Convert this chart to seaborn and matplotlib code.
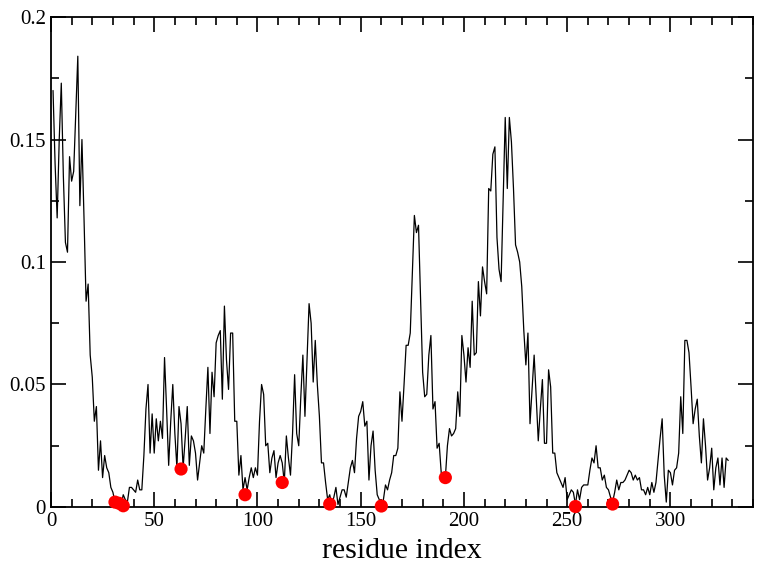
import matplotlib
matplotlib.use("Agg")
import matplotlib.pyplot as plt
import numpy as np
import pandas as pd
import seaborn as sns
from matplotlib.ticker import MultipleLocator

# per-residue profile
values = [
    0.170, 0.140, 0.118, 0.150, 0.173, 0.135, 0.108, 0.104, 0.143, 0.133,
    0.137, 0.160, 0.184, 0.123, 0.150, 0.118, 0.084, 0.091, 0.062, 0.053,
    0.035, 0.041, 0.015, 0.027, 0.012, 0.021, 0.016, 0.014, 0.008, 0.006,
    0.002, 0.004, 0.003, 0.001, 0.005, 0.003, 0.002, 0.008, 0.008, 0.007,
    0.006, 0.011, 0.007, 0.007, 0.021, 0.040, 0.050, 0.022, 0.038, 0.022,
    0.036, 0.027, 0.035, 0.028, 0.061, 0.040, 0.017, 0.035, 0.050, 0.030,
    0.016, 0.041, 0.034, 0.016, 0.028, 0.041, 0.017, 0.029, 0.027, 0.022,
    0.011, 0.018, 0.025, 0.022, 0.040, 0.057, 0.030, 0.055, 0.045, 0.067,
    0.070, 0.072, 0.044, 0.082, 0.060, 0.048, 0.071, 0.071, 0.035, 0.035,
    0.013, 0.021, 0.007, 0.012, 0.007, 0.012, 0.016, 0.012, 0.016, 0.013,
    0.035, 0.050, 0.046, 0.025, 0.026, 0.014, 0.020, 0.023, 0.012, 0.018,
    0.021, 0.018, 0.010, 0.029, 0.020, 0.013, 0.030, 0.054, 0.030, 0.025,
    0.045, 0.062, 0.037, 0.060, 0.083, 0.075, 0.051, 0.068, 0.050, 0.037,
    0.018, 0.018, 0.010, 0.003, 0.005, 0.001, 0.004, 0.008, 0.001, 0.004,
    0.007, 0.007, 0.004, 0.010, 0.016, 0.019, 0.014, 0.028, 0.037, 0.039,
    0.043, 0.033, 0.035, 0.011, 0.025, 0.031, 0.015, 0.005, 0.003, 0.001,
    0.003, 0.009, 0.007, 0.011, 0.014, 0.021, 0.021, 0.024, 0.047, 0.035,
    0.050, 0.066, 0.066, 0.071, 0.095, 0.119, 0.112, 0.115, 0.085, 0.055,
    0.045, 0.046, 0.062, 0.070, 0.040, 0.043, 0.024, 0.026, 0.014, 0.013,
    0.012, 0.025, 0.032, 0.029, 0.030, 0.032, 0.047, 0.037, 0.070, 0.062,
    0.051, 0.065, 0.057, 0.084, 0.062, 0.063, 0.092, 0.078, 0.098, 0.092,
    0.087, 0.130, 0.129, 0.144, 0.147, 0.110, 0.097, 0.092, 0.125, 0.159,
    0.130, 0.159, 0.149, 0.130, 0.107, 0.104, 0.100, 0.090, 0.072, 0.058,
    0.071, 0.034, 0.048, 0.062, 0.045, 0.027, 0.040, 0.052, 0.026, 0.026,
    0.056, 0.049, 0.022, 0.022, 0.014, 0.012, 0.010, 0.008, 0.012, 0.003,
    0.005, 0.007, 0.006, 0.001, 0.007, 0.003, 0.008, 0.009, 0.009, 0.009,
    0.015, 0.020, 0.018, 0.025, 0.016, 0.016, 0.011, 0.013, 0.008, 0.007,
    0.004, 0.002, 0.006, 0.011, 0.007, 0.010, 0.010, 0.011, 0.013, 0.015,
    0.014, 0.011, 0.013, 0.011, 0.012, 0.007, 0.007, 0.005, 0.008, 0.005,
    0.010, 0.006, 0.010, 0.019, 0.028, 0.036, 0.013, 0.002, 0.015, 0.014,
    0.009, 0.015, 0.016, 0.022, 0.045, 0.030, 0.068, 0.068, 0.063, 0.049,
    0.034, 0.040, 0.044, 0.029, 0.018, 0.036, 0.025, 0.011, 0.016, 0.024,
    0.007, 0.016, 0.020, 0.009, 0.020, 0.008, 0.020, 0.019,
]
residues = list(range(1, len(values) + 1))

# highlighted residues (red dots)
site_residues = [31, 33, 35, 63, 94, 112, 135, 160, 191, 254, 272]
site_values = [0.002, 0.0015, 0.0005, 0.0155, 0.005, 0.010, 0.0012,
               0.0004, 0.012, 0.0002, 0.0012]

sns.set_style("ticks")
plt.rcParams["font.family"] = ["Liberation Serif", "DejaVu Serif"]

df = pd.DataFrame({"residue": residues, "value": values})
df_sites = pd.DataFrame({"residue": site_residues, "value": site_values})

fig = plt.figure(figsize=(7.63, 5.71), dpi=100)
ax = fig.add_axes([0.0668, 0.1121, 0.9201, 0.8581])

sns.lineplot(data=df, x="residue", y="value", color="black", linewidth=0.9, ax=ax)
sns.scatterplot(data=df_sites, x="residue", y="value", color="#ff0000",
                s=90, edgecolor="none", zorder=3, clip_on=False, ax=ax)

ax.set_xlim(0, 340)
ax.set_ylim(0, 0.2)
ax.xaxis.set_major_locator(MultipleLocator(50))
ax.xaxis.set_minor_locator(MultipleLocator(10))
ax.yaxis.set_major_locator(MultipleLocator(0.05))
ax.yaxis.set_minor_locator(MultipleLocator(0.025))
ax.set_xticklabels([f"{int(v)}" for v in ax.get_xticks()])
ax.set_yticklabels(["0" if v == 0 else f"{v:g}" for v in ax.get_yticks()])

ax.tick_params(which="both", direction="in", top=True, right=True, width=1.2,
               labelsize=15, colors="black")
ax.tick_params(which="major", length=11)
ax.tick_params(which="minor", length=6)
for sp in ax.spines.values():
    sp.set_linewidth(1.3)
    sp.set_color("black")

ax.set_xlabel("residue index", fontsize=21.5, labelpad=5, color="black")
ax.set_ylabel("")

fig.savefig("out.png", dpi=100)
